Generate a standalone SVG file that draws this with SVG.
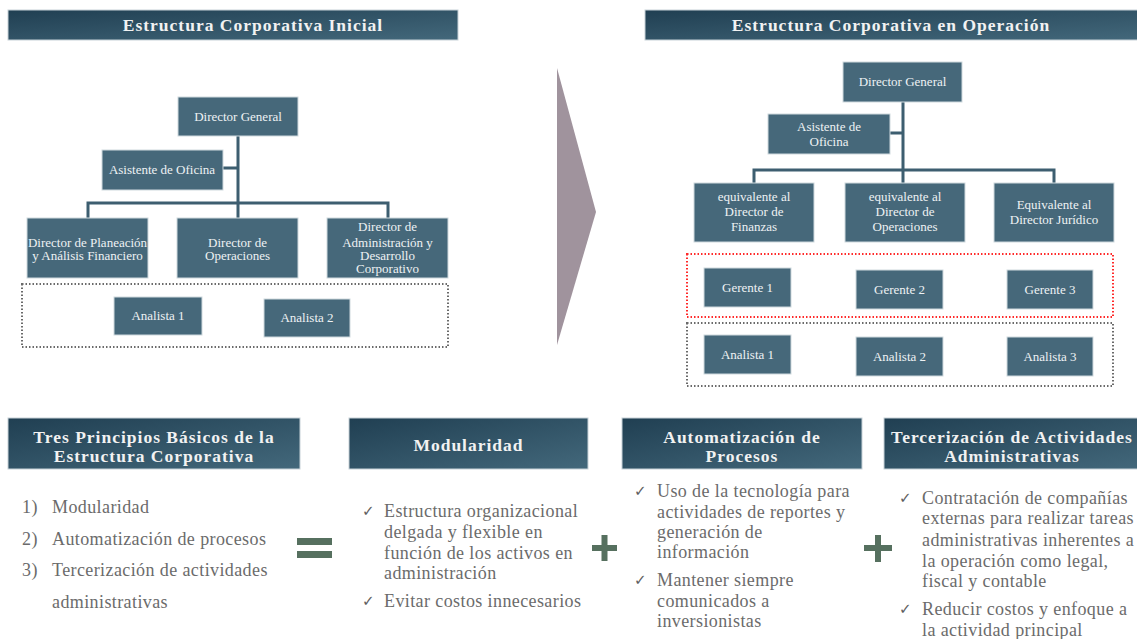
<svg xmlns="http://www.w3.org/2000/svg" width="1137" height="639" viewBox="0 0 1137 639">
<defs>
<linearGradient id="hg" x1="0" y1="0" x2="1" y2="1">
<stop offset="0" stop-color="#203f52"/>
<stop offset="1" stop-color="#43687b"/>
</linearGradient>
</defs>
<style>
.hdr{fill:url(#hg);stroke:#c7d2d8;stroke-width:1}
.ht{font-family:"Liberation Serif",serif;font-weight:bold;font-size:17.5px;letter-spacing:1px;fill:#f2f2f2;text-anchor:middle}
.box{fill:#46687a;stroke:#cfd9de;stroke-width:1}
.bt{font-family:"Liberation Serif",serif;font-size:13px;fill:#eef2f4;text-anchor:middle}
.ln{fill:none;stroke:#3d5e70;stroke-width:3}
.dg{fill:none;stroke:#6a6a6a;stroke-width:2;stroke-dasharray:1.5 2}
.dr{fill:none;stroke:#ff2a2a;stroke-width:2;stroke-dasharray:1.5 2}
.lt{font-family:"Liberation Serif",serif;font-size:18px;letter-spacing:0.4px;fill:#6b6b6b}
.ck{font-family:"DejaVu Sans",sans-serif;font-size:15px;fill:#5e5e5e}
.sym{fill:#56705f}
</style>

<g id="header-inicial">
<rect class="hdr" x="8" y="10" width="450" height="30"/>
<text class="ht" x="253" y="31">Estructura Corporativa Inicial</text>
</g>
<g id="header-operacion">
<rect class="hdr" x="645" y="10" width="500" height="30"/>
<text class="ht" x="891" y="31">Estructura Corporativa en Operación</text>
</g>

<g id="connectors">
<path class="ln" d="M238 136 V218 M223 168 H238 M88 218 V203 H388 V218"/>
<path class="ln" d="M903 102 V183 M890 133 H903 M754 183 V170 H1054 V183"/>
</g>

<g id="l-dg"><rect class="box" x="178" y="97" width="120" height="39"/><text class="bt" x="238" y="121">Director General</text></g>
<g id="l-asist"><rect class="box" x="102" y="150" width="121" height="40"/><text class="bt" x="162" y="174">Asistente de Oficina</text></g>
<g id="l-dpaf"><rect class="box" x="27" y="218" width="121" height="60"/><text class="bt" x="87.5" y="247">Director de Planeación</text><text class="bt" x="87.5" y="260">y Análisis Financiero</text></g>
<g id="l-dop"><rect class="box" x="177" y="218" width="121" height="60"/><text class="bt" x="237.5" y="247">Director de</text><text class="bt" x="237.5" y="260">Operaciones</text></g>
<g id="l-dadc"><rect class="box" x="327" y="218" width="121" height="60"/><text class="bt" x="387.5" y="231">Director de</text><text class="bt" x="387.5" y="247">Administración y</text><text class="bt" x="387.5" y="260">Desarrollo</text><text class="bt" x="387.5" y="273">Corporativo</text></g>
<g id="l-analistas-grupo"><rect class="dg" x="22" y="284" width="426" height="63"/></g>
<g id="l-an1"><rect class="box" x="114" y="297" width="88" height="38"/><text class="bt" x="158" y="320">Analista 1</text></g>
<g id="l-an2"><rect class="box" x="264" y="299" width="86" height="38"/><text class="bt" x="307" y="322">Analista 2</text></g>

<g id="chevron"><polygon points="557,68 596,212 557,345" fill="#a0939d"/></g>

<g id="r-dg"><rect class="box" x="843" y="62" width="119" height="40"/><text class="bt" x="902.5" y="86">Director General</text></g>
<g id="r-asist"><rect class="box" x="768" y="114" width="122" height="40"/><text class="bt" x="829" y="131">Asistente de</text><text class="bt" x="829" y="146">Oficina</text></g>
<g id="r-fin"><rect class="box" x="694" y="183" width="120" height="59"/><text class="bt" x="754" y="201">equivalente al</text><text class="bt" x="754" y="216">Director de</text><text class="bt" x="754" y="231">Finanzas</text></g>
<g id="r-op"><rect class="box" x="845" y="183" width="120" height="59"/><text class="bt" x="905" y="201">equivalente al</text><text class="bt" x="905" y="216">Director de</text><text class="bt" x="905" y="231">Operaciones</text></g>
<g id="r-jur"><rect class="box" x="994" y="183" width="120" height="59"/><text class="bt" x="1054" y="209">Equivalente al</text><text class="bt" x="1054" y="224">Director Jurídico</text></g>
<g id="r-gerentes-grupo"><rect class="dr" x="687" y="254" width="426" height="63"/></g>
<g id="r-g1"><rect class="box" x="704" y="268" width="87" height="39"/><text class="bt" x="747.5" y="292">Gerente 1</text></g>
<g id="r-g2"><rect class="box" x="856" y="270" width="87" height="39"/><text class="bt" x="899.5" y="294">Gerente 2</text></g>
<g id="r-g3"><rect class="box" x="1007" y="270" width="86" height="39"/><text class="bt" x="1050" y="294">Gerente 3</text></g>
<g id="r-analistas-grupo"><rect class="dg" x="687" y="323" width="426" height="63"/></g>
<g id="r-an1"><rect class="box" x="704" y="335" width="87" height="39"/><text class="bt" x="747.5" y="359">Analista 1</text></g>
<g id="r-an2"><rect class="box" x="856" y="337" width="87" height="39"/><text class="bt" x="899.5" y="361">Analista 2</text></g>
<g id="r-an3"><rect class="box" x="1007" y="337" width="86" height="39"/><text class="bt" x="1050" y="361">Analista 3</text></g>

<g id="principios">
<rect class="hdr" x="8" y="418" width="292" height="51"/>
<text class="ht" x="154" y="443">Tres Principios Básicos de la</text>
<text class="ht" x="154" y="462">Estructura Corporativa</text>
<text class="lt" x="22" y="513">1)</text><text class="lt" x="52" y="513">Modularidad</text>
<text class="lt" x="22" y="545">2)</text><text class="lt" x="52" y="545">Automatización de procesos</text>
<text class="lt" x="22" y="576">3)</text><text class="lt" x="52" y="576">Tercerización de actividades</text>
<text class="lt" x="52" y="608">administrativas</text>
</g>
<g id="igual"><rect class="sym" x="297" y="538" width="35" height="7"/><rect class="sym" x="297" y="551" width="35" height="7"/></g>

<g id="modularidad">
<rect class="hdr" x="349" y="418" width="239" height="51"/>
<text class="ht" x="468.5" y="451">Modularidad</text>
<text class="ck" x="362" y="516">✓</text>
<text class="lt" x="384" y="517">Estructura organizacional</text>
<text class="lt" x="384" y="538">delgada y flexible en</text>
<text class="lt" x="384" y="559">función de los activos en</text>
<text class="lt" x="384" y="579">administración</text>
<text class="ck" x="362" y="606">✓</text>
<text class="lt" x="384" y="607">Evitar costos innecesarios</text>
</g>
<g id="mas1"><rect class="sym" x="592" y="545" width="25" height="6"/><rect class="sym" x="601.5" y="535" width="6" height="26"/></g>

<g id="automatizacion">
<rect class="hdr" x="622" y="418" width="240" height="51"/>
<text class="ht" x="742" y="443">Automatización de</text>
<text class="ht" x="742" y="462">Procesos</text>
<text class="ck" x="634" y="496">✓</text>
<text class="lt" x="657" y="497">Uso de la tecnología para</text>
<text class="lt" x="657" y="518">actividades de reportes y</text>
<text class="lt" x="657" y="538">generación de</text>
<text class="lt" x="657" y="558">información</text>
<text class="ck" x="634" y="585">✓</text>
<text class="lt" x="657" y="586">Mantener siempre</text>
<text class="lt" x="657" y="607">comunicados a</text>
<text class="lt" x="657" y="627">inversionistas</text>
</g>
<g id="mas2"><rect class="sym" x="864" y="545" width="28" height="6"/><rect class="sym" x="875" y="535" width="6" height="27"/></g>

<g id="tercerizacion">
<rect class="hdr" x="884" y="418" width="260" height="51"/>
<text class="ht" x="1012" y="443">Tercerización de Actividades</text>
<text class="ht" x="1012" y="462">Administrativas</text>
<text class="ck" x="899" y="503">✓</text>
<text class="lt" x="922" y="504">Contratación de compañías</text>
<text class="lt" x="922" y="524">externas para realizar tareas</text>
<text class="lt" x="922" y="546">administrativas inherentes a</text>
<text class="lt" x="922" y="567">la operación como legal,</text>
<text class="lt" x="922" y="587">fiscal y contable</text>
<text class="ck" x="899" y="614">✓</text>
<text class="lt" x="922" y="615">Reducir costos y enfoque a</text>
<text class="lt" x="922" y="636">la actividad principal</text>
</g>
</svg>
